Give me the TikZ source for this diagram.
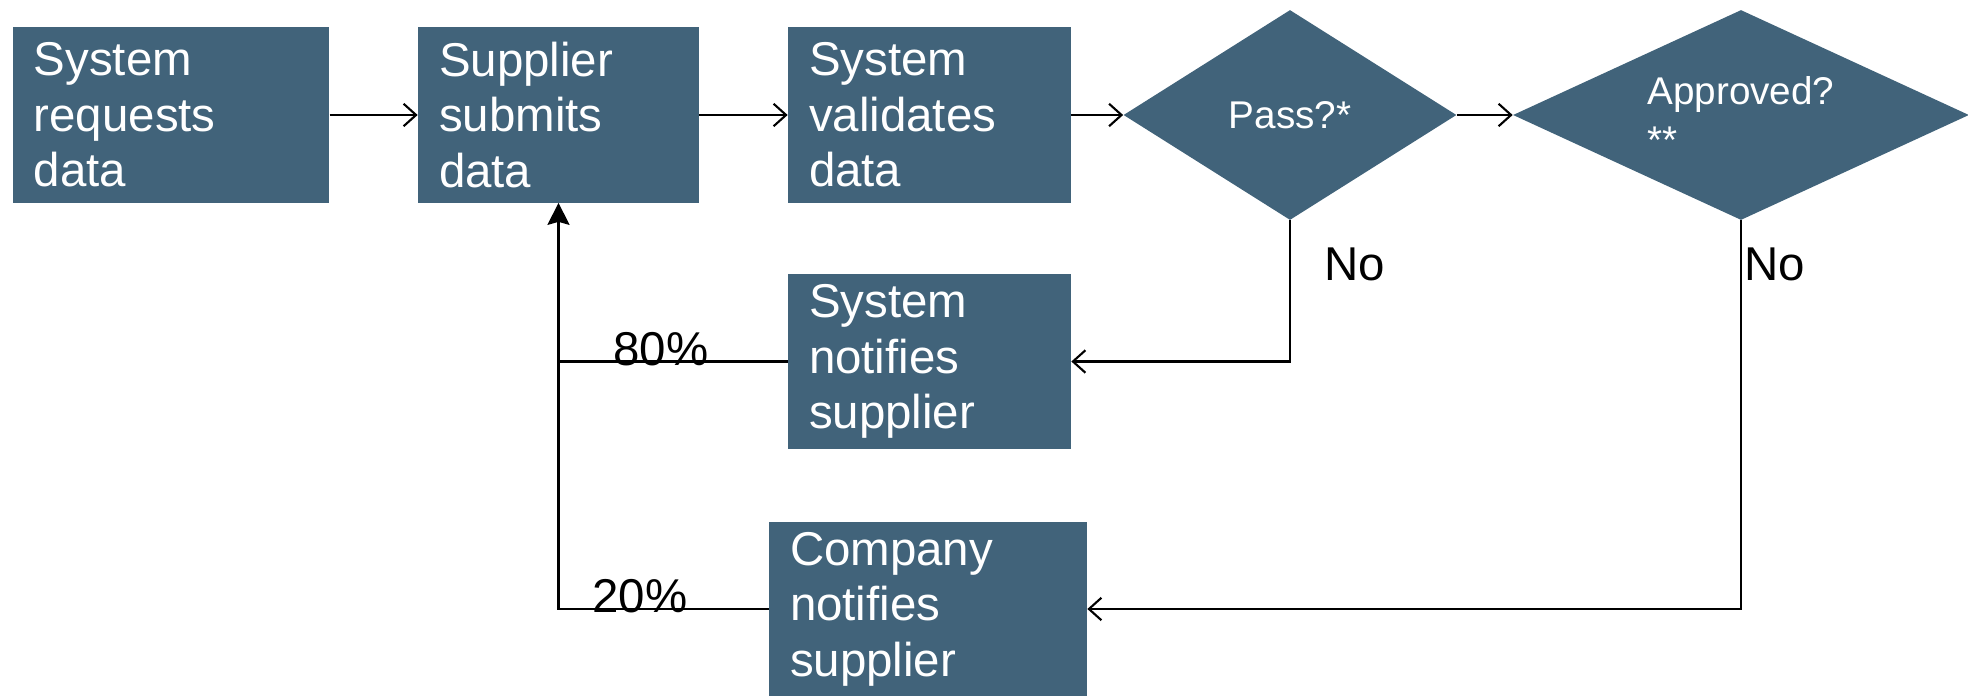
\documentclass[tikz,border=0pt]{standalone}
\usepackage{fontspec}
\setmainfont{Liberation Sans}
\usetikzlibrary{shapes.geometric,arrows.meta}
\definecolor{flowblue}{RGB}{65,99,122}
\begin{document}
\begin{tikzpicture}[
    stepbox/.style={fill=flowblue, text=white, minimum height=3.5cm, inner xsep=0.42cm, align=left, font=\fontsize{27}{31.5}\selectfont},
    decision/.style={diamond, fill=flowblue, text=white, inner sep=0pt, minimum height=4.2cm, align=left, font=\fontsize{22}{28}\selectfont},
    flow/.style={line width=1.2pt, -{Straight Barb[length=0.25cm,width=0.45cm]}},
    lbl/.style={font=\fontsize{27}{31}\selectfont, inner sep=0pt}
]
    \useasboundingbox (0,0) rectangle (39.36,13.9);
    % top row
    \node[stepbox, text width=5.49cm] (request) at (3.42,11.6) {System\\requests\\data};
    \node[stepbox, text width=4.78cm] (submit) at (11.17,11.6) {Supplier\\submits\\data};
    \node[stepbox, text width=4.82cm] (validate) at (18.59,11.6) {System\\validates\\data};
    \node[decision, minimum width=6.66cm, shape aspect=1.58] (pass) at (25.8,11.6) {Pass?*};
    \node[decision, minimum width=9.12cm, shape aspect=2.17] (approve) at (34.82,11.6) {Approved?\\**};
    % notices
    \node[stepbox, text width=4.82cm] (sysnote) at (18.59,6.67) {System\\notifies\\supplier};
    \node[stepbox, text width=5.52cm] (compnote) at (18.56,1.72) {Company\\notifies\\supplier};
    \draw[flow] (request) -- (submit);
    \draw[flow] (submit) -- (validate);
    \draw[flow] (validate) -- (pass);
    \draw[flow] (pass) -- (approve);
    \draw[flow] (pass.south) |- (sysnote.east);
    \draw[flow] (approve.south) |- (compnote.east);
    \draw[line width=1.2pt] (sysnote.west) -- (sysnote.west -| submit.south);
    \draw[line width=1.2pt, -{Stealth[length=0.44cm,width=0.44cm,inset=0.06cm]}] (compnote.west) -| (submit.south);
    % labels
    \node[lbl] (eighty) at (13.22,6.92) {80\%};
    \node[lbl] (twenty) at (12.8,1.98) {20\%};
    \node[lbl, anchor=west] (nopass) at (26.48,8.62) {No};
    \node[lbl, anchor=west] (noapprove) at (34.88,8.62) {No};
\end{tikzpicture}
\end{document}
